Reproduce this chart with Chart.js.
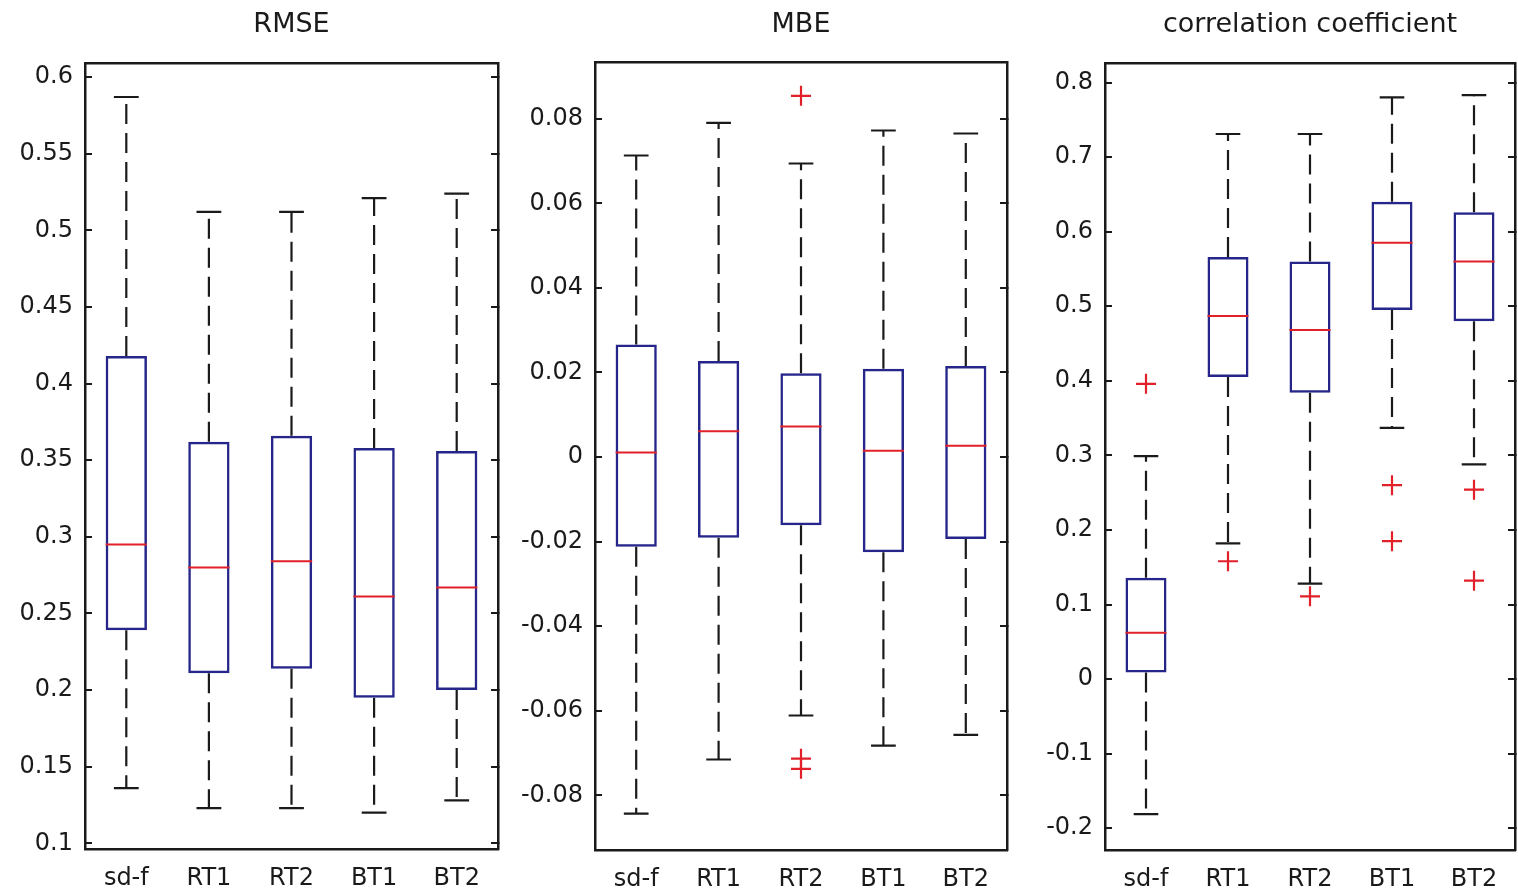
<!DOCTYPE html>
<html>
<head>
<meta charset="utf-8">
<script src="https://cdn.jsdelivr.net/npm/chart.js@4.4.1/dist/chart.umd.min.js"></script>
<style>
html,body{margin:0;padding:0;background:#fff;overflow:hidden;}
.panel{position:absolute;top:0;height:894px;}
</style>
</head>
<body>
<div class="panel" style="left:0;width:510px"><canvas id="rmse"></canvas></div>
<div class="panel" style="left:510px;width:510px"><canvas id="mbe"></canvas></div>
<div class="panel" style="left:1020px;width:498px"><canvas id="corr"></canvas></div>
<script>
const groups = ['sd-f', 'RT1', 'RT2', 'BT1', 'BT2'];

// RMSE
const rmseLow  = [0.136, 0.123, 0.123, 0.120, 0.128];
const rmseQ1   = [0.239, 0.211, 0.214, 0.195, 0.200];
const rmseMed  = [0.295, 0.280, 0.284, 0.261, 0.267];
const rmseQ3   = [0.418, 0.362, 0.366, 0.358, 0.356];
const rmseHigh = [0.587, 0.512, 0.512, 0.521, 0.524];
const rmseOut  = [[], [], [], [], []];
const rmseTicks = [0.1, 0.15, 0.2, 0.25, 0.3, 0.35, 0.4, 0.45, 0.5, 0.55, 0.6];

// MBE
const mbeLow  = [-0.0843, -0.0715, -0.0611, -0.0682, -0.0657];
const mbeQ1   = [-0.0212, -0.0191, -0.0161, -0.0225, -0.0194];
const mbeMed  = [0.0011, 0.0061, 0.0072, 0.0015, 0.0027];
const mbeQ3   = [0.0266, 0.0227, 0.0198, 0.0209, 0.0215];
const mbeHigh = [0.0713, 0.0790, 0.0694, 0.0772, 0.0765];
const mbeOut  = [[], [], [0.0854, -0.0713, -0.0737], [], []];
const mbeTicks = [-0.08, -0.06, -0.04, -0.02, 0, 0.02, 0.04, 0.06, 0.08];

// correlation coefficient
const corLow  = [-0.181, 0.182, 0.128, 0.337, 0.288];
const corQ1   = [0.009, 0.405, 0.384, 0.495, 0.480];
const corMed  = [0.062, 0.487, 0.468, 0.585, 0.560];
const corQ3   = [0.136, 0.566, 0.560, 0.640, 0.626];
const corHigh = [0.299, 0.731, 0.731, 0.780, 0.783];
const corOut  = [[0.396], [0.158], [0.111], [0.260, 0.185], [0.254, 0.132]];
const corTicks = [-0.2, -0.1, 0, 0.1, 0.2, 0.3, 0.4, 0.5, 0.6, 0.7, 0.8];

const ink = '#1a1a1a';
const boxBlue = '#26268a';
const medRed = '#e2202a';
const tickFont = {family: '"DejaVu Sans", sans-serif', size: 24};
const titleFont = {family: '"DejaVu Sans", sans-serif', size: 27};

function makePanel(id, title, low, q1, med, q3, high, out, yMin, yMax, yTicks, frame) {
  const boxes = [], whiskers = [], caps = [], medians = [], outliers = [];
  groups.forEach((g, i) => {
    const x = i + 1;
    boxes.push({x, y: [q1[i], q3[i]]});
    whiskers.push({x, y: q3[i]}, {x, y: high[i]}, {x, y: null}, {x, y: q1[i]}, {x, y: low[i]}, {x, y: null});
    caps.push({x: x - 0.15, y: high[i]}, {x: x + 0.15, y: high[i]}, {x, y: null},
              {x: x - 0.15, y: low[i]}, {x: x + 0.15, y: low[i]}, {x, y: null});
    medians.push({x: x - 0.25, y: med[i]}, {x: x + 0.25, y: med[i]}, {x, y: null});
    out[i].forEach(v => outliers.push({x, y: v}));
  });

  const setTicks = s => { s.ticks = yTicks.map(v => ({value: v})); };
  const noPad = s => { s.paddingLeft = 0; s.paddingRight = 0; s.paddingTop = 0; s.paddingBottom = 0; };
  const lineBase = {type: 'line', xAxisID: 'x', yAxisID: 'y', pointRadius: 0, fill: false, spanGaps: false, tension: 0};

  new Chart(document.getElementById(id), {
    type: 'bar',
    data: {
      datasets: [
        {type: 'bar', xAxisID: 'x', yAxisID: 'y', data: boxes, backgroundColor: 'rgba(0,0,0,0)',
         borderColor: boxBlue, borderWidth: 2.5, borderSkipped: false,
         categoryPercentage: 1, barPercentage: 0.5, order: 5},
        Object.assign({}, lineBase, {data: whiskers, borderColor: ink, borderWidth: 2.2, borderDash: [20, 9], order: 4}),
        Object.assign({}, lineBase, {data: caps, borderColor: ink, borderWidth: 2.2, order: 3}),
        Object.assign({}, lineBase, {data: medians, borderColor: medRed, borderWidth: 2, order: 2}),
        Object.assign({}, lineBase, {data: outliers, showLine: false, pointRadius: 10, pointStyle: 'cross',
         pointBorderColor: medRed, pointBorderWidth: 2.2, order: 1})
      ]
    },
    options: {
      responsive: true,
      maintainAspectRatio: false,
      animation: false,
      events: [],
      layout: {autoPadding: false, padding: {left: 0, top: 0, bottom: 0, right: frame.padRight}},
      plugins: {legend: {display: false}, tooltip: {enabled: false}},
      scales: {
        x: {
          type: 'linear', position: 'bottom', min: 0.5, max: 5.5, offset: false,
          afterBuildTicks: s => { s.ticks = groups.map((g, i) => ({value: i + 1})); },
          afterFit: s => { s.height = frame.bottomH; noPad(s); },
          ticks: {font: tickFont, color: ink, padding: 15, autoSkip: false, maxRotation: 0,
                  callback: v => groups[v - 1]},
          grid: {drawOnChartArea: false, drawTicks: false},
          border: {display: true, color: ink, width: 2.5}
        },
        xTop: {
          type: 'linear', position: 'top', min: 0, max: 1,
          afterFit: s => { s.height = frame.top; noPad(s); },
          ticks: {display: false},
          grid: {drawOnChartArea: false, drawTicks: false},
          border: {display: true, color: ink, width: 2.5},
          title: {display: true, text: title, font: titleFont, color: ink, padding: {top: 9, bottom: 0}}
        },
        y: {
          type: 'linear', position: 'left', min: yMin, max: yMax,
          afterBuildTicks: setTicks,
          afterFit: s => { s.width = 85; noPad(s); },
          ticks: {font: tickFont, color: ink, padding: 19, callback: v => String(+v.toFixed(4))},
          grid: {drawOnChartArea: false, tickLength: -7, color: ink, lineWidth: 2},
          border: {display: true, color: ink, width: 2.5}
        },
        y2: {
          type: 'linear', position: 'right', min: yMin, max: yMax,
          afterBuildTicks: setTicks,
          afterFit: s => { s.width = 0; noPad(s); },
          ticks: {display: false},
          grid: {drawOnChartArea: false, tickLength: -7, color: ink, lineWidth: 2},
          border: {display: true, color: ink, width: 2.5}
        }
      }
    }
  });
}

Chart.defaults.devicePixelRatio = 1;
makePanel('rmse', 'RMSE', rmseLow, rmseQ1, rmseMed, rmseQ3, rmseHigh, rmseOut,
  0.0963, 0.6092, rmseTicks, {padRight: 12, top: 63, bottomH: 45});
makePanel('mbe', 'MBE', mbeLow, mbeQ1, mbeMed, mbeQ3, mbeHigh, mbeOut,
  -0.0929, 0.0934, mbeTicks, {padRight: 13, top: 62, bottomH: 44});
makePanel('corr', 'correlation coefficient', corLow, corQ1, corMed, corQ3, corHigh, corOut,
  -0.2292, 0.8262, corTicks, {padRight: 3, top: 63, bottomH: 44});
</script>
</body>
</html>
